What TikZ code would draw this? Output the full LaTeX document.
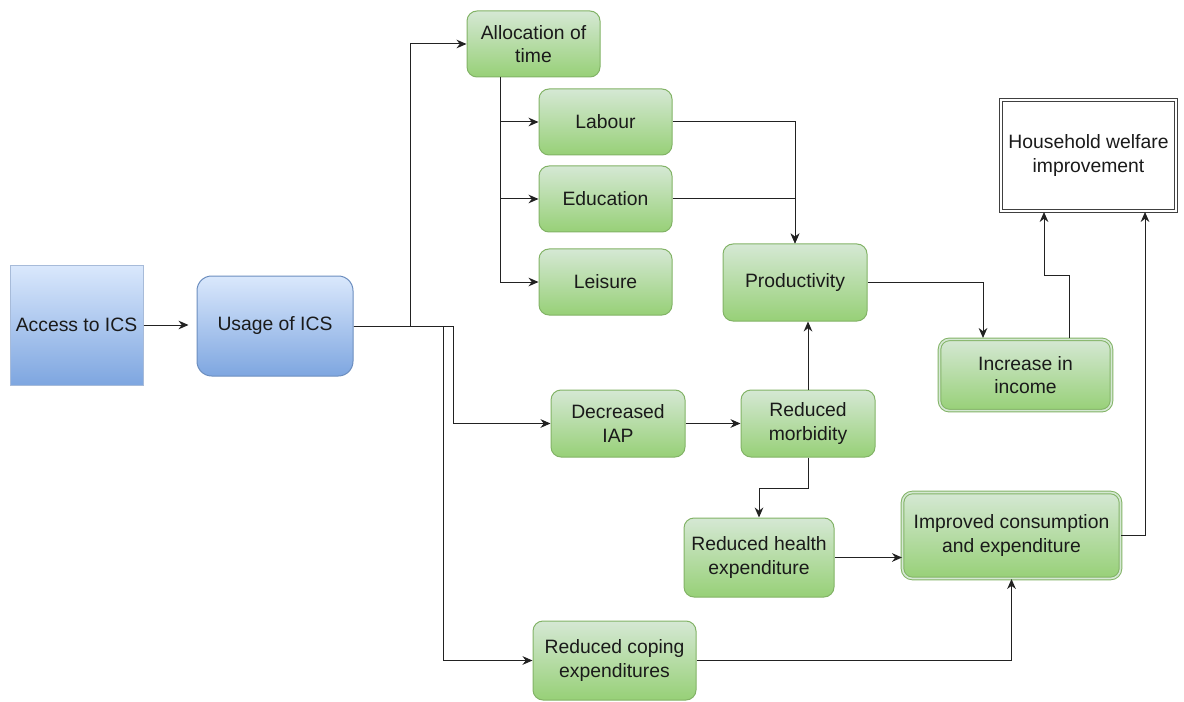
\documentclass[tikz,border=0pt]{standalone}
\usepackage{fontspec}
\setmainfont{Liberation Sans}
\usetikzlibrary{arrows.meta,calc}
\definecolor{bluetop}{HTML}{DAE8FC}
\definecolor{bluebot}{HTML}{7EA6E0}
\definecolor{blueln}{HTML}{6C8EBF}
\definecolor{greentop}{HTML}{D5E8D4}
\definecolor{greenbot}{HTML}{97D077}
\definecolor{greenln}{HTML}{82B366}
\definecolor{txt}{HTML}{1A1A1A}
\definecolor{conn}{HTML}{222222}
\tikzset{
  base/.style={font=\fontsize{14.5}{17.5}\selectfont, text=txt, align=center, inner sep=2pt},
  bluebox/.style={base, top color=bluetop, bottom color=bluebot, draw=blueln, line width=0.75pt},
  greenbox/.style={base, top color=greentop, bottom color=greenbot, draw=greenln, line width=0.75pt, rounded corners=7.5pt},
  greendbl/.style={greenbox, double=greentop, double distance=1.2pt},
  conline/.style={draw=conn, line width=0.75pt, -{Stealth[length=7.5pt,width=6.5pt]}},
}
\begin{document}
\begin{tikzpicture}[x=0.75pt,y=-0.75pt]
\useasboundingbox (0,0) rectangle (1184,702);
% nodes
\node[bluebox, draw=blueln!60, minimum width=99.75pt, minimum height=90pt] (access) at (76.5,325) {Access to ICS};
\node[bluebox, rounded corners=11pt, minimum width=117pt, minimum height=75pt] (usage) at (275,326) {Usage of ICS};
\node[greenbox, minimum width=99.75pt, minimum height=49.5pt] (alloc) at (533.5,44) {Allocation of\\time};
\node[greenbox, minimum width=99.75pt, minimum height=49.5pt] (labour) at (605.5,122) {Labour};
\node[greenbox, minimum width=99.75pt, minimum height=49.5pt] (edu) at (605.5,199) {Education};
\node[greenbox, minimum width=99.75pt, minimum height=49.5pt] (leisure) at (605.5,282) {Leisure};
\node[greenbox, minimum width=108pt, minimum height=57.75pt] (prod) at (795,282.5) {Productivity};
\node[base, fill=white, draw=black!75, line width=0.75pt, double=white, double distance=1.5pt, minimum width=131pt, minimum height=83pt] (welfare) at (1088.5,155.5) {Household welfare\\improvement};
\node[greendbl, minimum width=129pt, minimum height=53.5pt] (income) at (1025.5,375) {Increase in\\income};
\node[greenbox, minimum width=100.5pt, minimum height=50.25pt] (iap) at (618,423.5) {Decreased\\IAP};
\node[greenbox, minimum width=100.5pt, minimum height=50.25pt] (morb) at (808,423.5) {Reduced\\morbidity};
\node[greenbox, minimum width=112.5pt, minimum height=59.25pt] (health) at (759,557.5) {Reduced health\\expenditure};
\node[greendbl, minimum width=163.5pt, minimum height=64.5pt] (improved) at (1011.5,535.5) {Improved consumption\\and expenditure};
\node[greenbox, minimum width=122.25pt, minimum height=59.25pt] (coping) at (614.5,660.5) {Reduced coping\\expenditures};
% helper coordinates
\coordinate (abr) at (500,77);
\coordinate (incin) at (983,338);
\coordinate (incout) at (1069,338);
\coordinate (welin1) at (1044,212);
\coordinate (welin2) at (1145,212);
% connectors
\draw[conline, shorten >=6pt] (access.east) -- (access.east -| usage.west);
\draw[conline] (usage.east) -- ++(57,0) |- (alloc.west);
\draw[conline] (usage.east) -- ++(100,0) |- (iap.west);
\draw[conline] (usage.east) -- ++(90,0) |- (coping.west);
\draw[conline] (abr) |- (labour.west);
\draw[conline] (abr) |- (edu.west);
\draw[conline] (abr) |- (leisure.west);
\draw[conline] (labour.east) -| (prod.north);
\draw[conline] (edu.east) -| (prod.north);
\draw[conline] (prod.east) -| (incin);
\draw[conline] (incout) -- ++(0,-63) -| (welin1);
\draw[conline] (improved.east) -| (welin2);
\draw[conline] (iap.east) -- (morb.west);
\draw[conline] (morb.north) -- (morb.north |- prod.south);
\draw[conline] (morb.south) -- ++(0,31) -| (health.north);
\draw[conline] (health.east) -- (health.east -| improved.west);
\draw[conline] (coping.east) -| (improved.south);
\end{tikzpicture}
\end{document}
